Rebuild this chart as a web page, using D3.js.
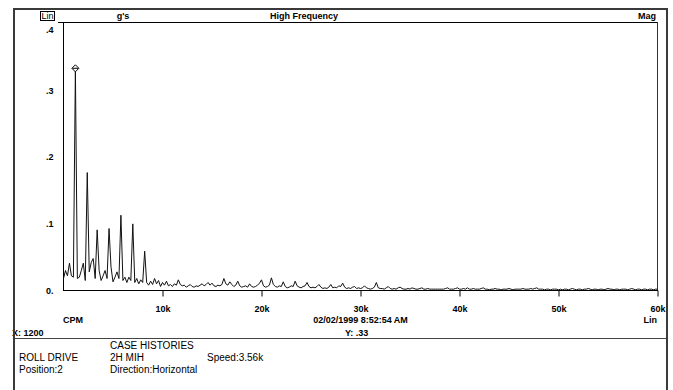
<!DOCTYPE html>
<html>
<head>
<meta charset="utf-8">
<script src="https://cdn.jsdelivr.net/npm/d3@7"></script>
<style>
body { margin: 0; background: #fff; }
text { font-family: "Liberation Sans", Arial, sans-serif; fill: #000; }
.bold { font-weight: bold; font-size: 9px; }
.info { font-size: 10px; }
</style>
</head>
<body>
<svg id="chart" width="673" height="390"></svg>
<script>
var WIDTH = 673;
var HEIGHT = 390;

// spectrum, one value (g's) every 200 CPM from 0 to 60k
var CPM_STEP = 200;
var amplitude = [
    0.018,0.03,0.022,0.041,0.022,0.02,0.332,0.018,0.02,0.03,
    0.041,0.015,0.177,0.028,0.042,0.048,0.018,0.091,0.03,0.015,
    0.022,0.03,0.018,0.093,0.035,0.013,0.02,0.028,0.018,0.113,
    0.015,0.02,0.012,0.02,0.015,0.1,0.012,0.018,0.01,0.016,
    0.012,0.059,0.012,0.008,0.014,0.009,0.018,0.01,0.015,0.006,
    0.012,0.008,0.014,0.007,0.009,0.006,0.01,0.008,0.016,0.009,
    0.007,0.008,0.005,0.007,0.009,0.006,0.005,0.007,0.006,0.008,
    0.01,0.007,0.009,0.012,0.008,0.011,0.007,0.006,0.008,0.007,
    0.009,0.018,0.01,0.008,0.013,0.009,0.006,0.008,0.014,0.007,
    0.005,0.006,0.007,0.005,0.01,0.006,0.005,0.006,0.008,0.011,
    0.016,0.007,0.005,0.006,0.008,0.019,0.009,0.006,0.005,0.007,
    0.006,0.013,0.006,0.004,0.005,0.007,0.006,0.014,0.007,0.005,
    0.004,0.006,0.007,0.012,0.006,0.004,0.005,0.004,0.006,0.009,
    0.005,0.003,0.004,0.003,0.005,0.009,0.004,0.005,0.004,0.007,
    0.006,0.011,0.005,0.003,0.004,0.003,0.005,0.006,0.003,0.004,
    0.003,0.004,0.007,0.004,0.003,0.002,0.003,0.005,0.012,0.004,
    0.003,0.003,0.002,0.004,0.006,0.003,0.002,0.003,0.002,0.004,
    0.005,0.003,0.002,0.002,0.003,0.002,0.004,0.003,0.002,0.002,
    0.003,0.004,0.002,0.002,0.003,0.002,0.002,0.002,0.002,0.002,
    0.002,0.002,0.002,0.003,0.004,0.002,0.002,0.002,0.003,0.004,
    0.002,0.002,0.003,0.002,0.004,0.002,0.002,0.003,0.002,0.002,
    0.002,0.003,0.004,0.002,0.002,0.001,0.002,0.002,0.003,0.002,
    0.002,0.001,0.002,0.002,0.002,0.003,0.002,0.001,0.002,0.002,
    0.002,0.002,0.003,0.002,0.002,0.002,0.003,0.002,0.003,0.004,
    0.002,0.002,0.002,0.001,0.002,0.002,0.001,0.002,0.002,0.002,
    0.001,0.002,0.001,0.002,0.002,0.001,0.002,0.003,0.002,0.001,
    0.002,0.002,0.001,0.002,0.002,0.003,0.002,0.001,0.002,0.002,
    0.001,0.002,0.002,0.001,0.002,0.003,0.002,0.002,0.001,0.002,
    0.002,0.001,0.002,0.002,0.002,0.001,0.002,0.003,0.002,0.001,
    0.002,0.002,0.001,0.002,0.002,0.001,0.002,0.002,0.001,0.002,
    0.002
];

var xTicks = [10000, 20000, 30000, 40000, 50000, 60000];
var yTicks = [0, 0.1, 0.2, 0.3, 0.4];
var markerCpm = [1200];
var markerG = [0.332];

var svg = d3.select('#chart');

var xScale = d3.scaleLinear().domain([0, 60000]).range([63.5, 657.5]);
var yScale = d3.scaleLinear().domain([0, 0.4]).range([290.5, 24]);

// plot frame: top rule and right edge
svg.append('line')
    .attr('x1', 58).attr('x2', 658).attr('y1', 22.5).attr('y2', 22.5)
    .attr('stroke', '#000');
svg.append('line')
    .attr('x1', 657.5).attr('x2', 657.5).attr('y1', 22).attr('y2', 291)
    .attr('stroke', '#333');

// x axis
var bottomAxis = d3.axisBottom(xScale)
    .tickValues(xTicks)
    .tickSize(6)
    .tickPadding(9)
    .tickFormat(function(d){ return d / 1000 + 'k'; });
var gx = svg.append('g')
    .attr('transform', 'translate(0,290.5)')
    .call(bottomAxis);
gx.select('.domain').remove();
gx.selectAll('text').attr('class', 'bold').attr('font-family', null).attr('font-size', null);
gx.selectAll('line').attr('stroke', '#000');
svg.append('line')
    .attr('x1', 63).attr('x2', 658).attr('y1', 290.5).attr('y2', 290.5)
    .attr('stroke', '#000');

// y axis
var leftAxis = d3.axisLeft(yScale)
    .tickValues(yTicks)
    .tickSize(0)
    .tickPadding(10)
    .tickFormat(function(d){ return d === 0 ? '0.' : d3.format('.1f')(d).replace('0.', '.'); });
var gy = svg.append('g')
    .attr('transform', 'translate(63.5,0)')
    .call(leftAxis);
gy.select('.domain').remove();
gy.selectAll('text').attr('class', 'bold').attr('font-family', null).attr('font-size', null)
    .attr('dy', function(d){ return d === 0.4 ? '0.9em' : '0.3em'; });
svg.append('line')
    .attr('x1', 63.5).attr('x2', 63.5).attr('y1', 22).attr('y2', 291)
    .attr('stroke', '#000');

// spectrum trace
var line = d3.line()
    .x(function(d, i){ return xScale(i * CPM_STEP); })
    .y(function(d){ return yScale(d); });
svg.append('path')
    .datum(amplitude)
    .attr('d', line)
    .attr('fill', 'none')
    .attr('stroke', '#111')
    .attr('stroke-width', 1);

// cursor marker on the peak
svg.selectAll('.marker')
    .data(markerCpm)
    .enter()
    .append('g')
    .attr('class', 'marker')
    .attr('transform', function(d, i){ return 'translate(' + xScale(d) + ',' + (yScale(markerG[i]) - 1) + ')'; })
    .each(function(){
        var g = d3.select(this);
        g.append('path').attr('d', 'M0,-3.5L3.5,0L0,3.5L-3.5,0Z')
            .attr('fill', '#fff').attr('stroke', '#000');
        g.append('line').attr('x1', -3).attr('x2', 3).attr('y1', 0).attr('y2', 0)
            .attr('stroke', '#000');
    });

// header
svg.append('rect').attr('x', 40.5).attr('y', 11.5).attr('width', 14).attr('height', 9)
    .attr('fill', 'none').attr('stroke', '#000');
svg.append('text').attr('x', 41.5).attr('y', 19).attr('font-size', 9).text('Lin');
svg.append('text').attr('class', 'bold').attr('x', 123).attr('y', 18.5).attr('text-anchor', 'middle').text("g's");
svg.append('text').attr('class', 'bold').attr('x', 304).attr('y', 18.5).attr('text-anchor', 'middle').text('High Frequency');
svg.append('text').attr('class', 'bold').attr('x', 656).attr('y', 18.5).attr('text-anchor', 'end').text('Mag');

// footer of the plot
svg.append('text').attr('class', 'bold').attr('x', 63).attr('y', 323).text('CPM');
svg.append('text').attr('class', 'bold').attr('x', xScale(30000)).attr('y', 323).attr('text-anchor', 'middle').text('02/02/1999 8:52:54 AM');
svg.append('text').attr('class', 'bold').attr('x', 657).attr('y', 323).attr('text-anchor', 'end').text('Lin');
svg.append('text').attr('class', 'bold').attr('x', 12).attr('y', 335.5).text('X: 1200');
svg.append('text').attr('class', 'bold').attr('x', 345).attr('y', 335.5).text('Y: .33');

// info block
svg.append('line').attr('x1', 14).attr('x2', 667).attr('y1', 338.5).attr('y2', 338.5).attr('stroke', '#444');
var info = [
    ['CASE HISTORIES', 110, 349],
    ['ROLL DRIVE', 19, 361], ['2H MIH', 110, 361], ['Speed:3.56k', 207, 361],
    ['Position:2', 19, 373], ['Direction:Horizontal', 110, 373]
];
svg.selectAll('.info')
    .data(info)
    .enter()
    .append('text')
    .attr('class', 'info')
    .attr('x', function(d){ return d[1]; })
    .attr('y', function(d){ return d[2]; })
    .text(function(d){ return d[0]; });

// window border
svg.append('rect').attr('x', 14).attr('y', 9).attr('width', 653).attr('height', 400)
    .attr('fill', 'none').attr('stroke', '#3a3a3a').attr('stroke-width', 2);
</script>
</body>
</html>
